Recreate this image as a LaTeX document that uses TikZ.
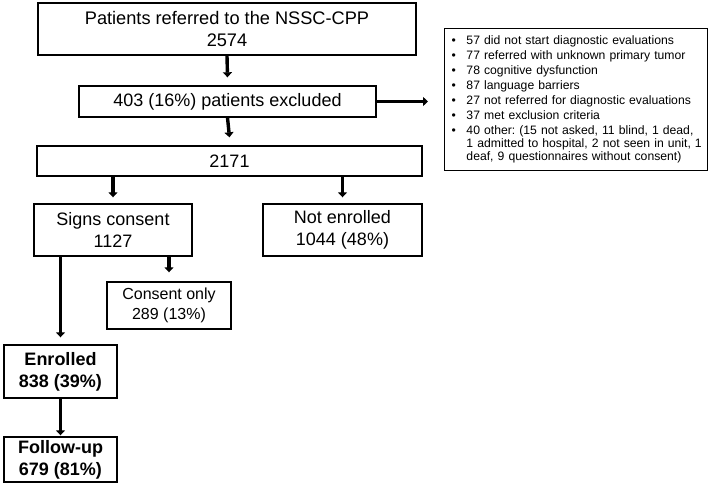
\documentclass[tikz,border=0pt]{standalone}
\usepackage{fontspec}
\setmainfont{Liberation Sans}
\usetikzlibrary{arrows.meta}
\frenchspacing
\begin{document}
\begin{tikzpicture}[x=1pt,y=-1pt,
  box/.style={draw=black,line width=1.4pt,rectangle,inner sep=0pt,align=center,
     font=\fontsize{18}{22}\selectfont},
  arr/.style={line width=3.4pt,-{Triangle[length=5pt,width=9pt]}}]
\useasboundingbox (0,0) rectangle (709,493);
\node[box,minimum width=378pt,minimum height=52pt,font=\fontsize{18.2}{22}\selectfont] (b1) at (227,29) {Patients referred to the NSSC-CPP\\2574};
\node[box,minimum width=297pt,minimum height=31pt] (b2) at (227.5,101.5) {403 (16\%) patients excluded};
\node[box,minimum width=385pt,minimum height=30pt] (b3) at (229.5,161) {2171};
\node[box,minimum width=158pt,minimum height=52pt] (sc) at (113,230) {Signs consent\\1127};
\node[box,minimum width=159pt,minimum height=52pt] (ne) at (342.5,230) {Not enrolled\\1044 (48\%)};
\node[box,minimum width=124pt,minimum height=47pt,font=\fontsize{16}{20}\selectfont] (co) at (169,305.5) {Consent only\\289 (13\%)};
\node[box,minimum width=113pt,minimum height=53pt,font=\fontsize{18}{22}\selectfont\bfseries] (en) at (60.5,371.5) {Enrolled\\838 (39\%)};
\node[box,minimum width=113pt,minimum height=45pt,font=\fontsize{18}{22}\selectfont\bfseries] (fu) at (60.5,459.5) {Follow-up\\679 (81\%)};
\node[draw=black,line width=1.4pt,rectangle,anchor=north west,inner xsep=7pt,inner ysep=0pt,
  minimum width=263pt,minimum height=142pt,text width=249pt,align=left,
  font=\fontsize{12.2}{13}\selectfont] (rb) at (444,28) {%
\begin{tabular}{@{}l@{\hspace{10.5pt}}l@{}}
•&57 did not start diagnostic evaluations\\[2pt]
•&77 referred with unknown primary tumor\\[2pt]
•&78 cognitive dysfunction\\[2pt]
•&87 language barriers\\[2pt]
•&27 not referred for diagnostic evaluations\\[2pt]
•&37 met exclusion criteria\\[2pt]
•&40 other: (15 not asked, 11 blind, 1 dead,\\
&1 admitted to hospital, 2 not seen in unit, 1\\
&deaf, 9 questionnaires without consent)
\end{tabular}};
\draw[arr] (b1.south) -- ([yshift=8pt]b2.north);
\draw[arr] (b2.south) -- ([yshift=8pt]b3.north);
\draw[arr] (b2.east) -- ([xshift=-16pt]b2.east -| rb.west);
\draw[arr] (b3.south -| sc.north) -- ([yshift=6pt]sc.north);
\draw[arr] (b3.south -| ne.north) -- ([yshift=6pt]ne.north);
\draw[arr] (sc.south -| co.north) -- ([yshift=9pt]co.north);
\draw[arr] (sc.south -| en.north) -- ([yshift=7pt]en.north);
\draw[arr] (en.south) -- ([yshift=1pt]fu.north);
\end{tikzpicture}
\end{document}
